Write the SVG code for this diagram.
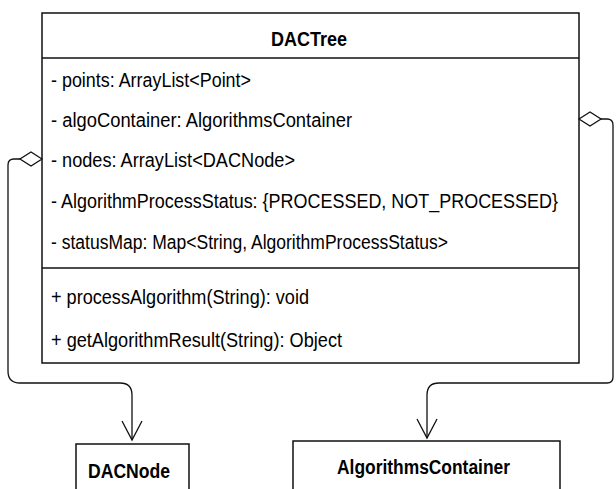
<svg xmlns="http://www.w3.org/2000/svg" width="616" height="489" viewBox="0 0 616 489">
<defs>
<style>
.box{fill:#fff;stroke:#111;stroke-width:1.5}
.sep{stroke:#111;stroke-width:1.5}
.t{font-family:"Liberation Sans",Arial,sans-serif;font-size:20px;fill:#000}
.b{font-family:"Liberation Sans",Arial,sans-serif;font-size:20px;font-weight:bold;fill:#000}
.edge{fill:none;stroke:#111;stroke-width:1.3}
.dia{fill:#fff;stroke:#111;stroke-width:1.3}
</style>
</defs>
<rect width="616" height="489" fill="#fff"/>
<g id="DACTree">
<rect class="box" x="42" y="13" width="537" height="350"/>
<line class="sep" x1="42" y1="58" x2="579" y2="58"/>
<line class="sep" x1="42" y1="268" x2="579" y2="268"/>
<text class="b" x="271" y="46" textLength="76" lengthAdjust="spacingAndGlyphs">DACTree</text>
<text class="t" x="51" y="87" textLength="200" lengthAdjust="spacingAndGlyphs">- points: ArrayList&lt;Point&gt;</text>
<text class="t" x="51" y="127" textLength="301" lengthAdjust="spacingAndGlyphs">- algoContainer: AlgorithmsContainer</text>
<text class="t" x="51" y="167" textLength="244" lengthAdjust="spacingAndGlyphs">- nodes: ArrayList&lt;DACNode&gt;</text>
<text class="t" x="51" y="208" textLength="507" lengthAdjust="spacingAndGlyphs">- AlgorithmProcessStatus: {PROCESSED, NOT_PROCESSED}</text>
<text class="t" x="51" y="249" textLength="397" lengthAdjust="spacingAndGlyphs">- statusMap: Map&lt;String, AlgorithmProcessStatus&gt;</text>
<text class="t" x="51" y="304" textLength="258" lengthAdjust="spacingAndGlyphs">+ processAlgorithm(String): void</text>
<text class="t" x="51" y="347" textLength="291" lengthAdjust="spacingAndGlyphs">+ getAlgorithmResult(String): Object</text>
</g>
<g id="DACNode">
<rect class="box" x="76" y="444" width="113" height="60"/>
<text class="b" x="88" y="478" textLength="82" lengthAdjust="spacingAndGlyphs">DACNode</text>
</g>
<g id="AlgorithmsContainer">
<rect class="box" x="293" y="441" width="267" height="60"/>
<text class="b" x="337" y="474" textLength="173" lengthAdjust="spacingAndGlyphs">AlgorithmsContainer</text>
</g>
<g id="connectors">
<path class="edge" d="M20 159 L14 159 Q8 159 8 165 L8 371 Q8 383 20 383 L120 383 Q132 383 132 395 L132 440"/>
<polygon class="dia" points="42,159 31,152 20,159 31,166"/>
<path class="edge" d="M122 421 L132 440 L142 421"/>
<path class="edge" d="M601 119 L607 119 Q613 119 613 125 L613 377 Q613 383 607 383 L439 383 Q427 383 427 395 L427 438"/>
<polygon class="dia" points="579,119 590,112 601,119 590,126"/>
<path class="edge" d="M417 419 L427 438 L437 419"/>
</g>
</svg>
